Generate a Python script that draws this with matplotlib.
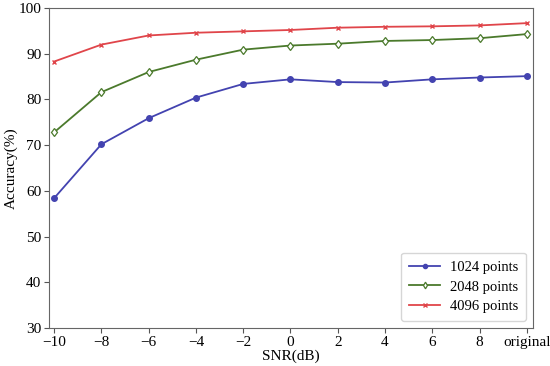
import matplotlib
matplotlib.use("Agg")
import matplotlib.pyplot as plt

plt.rcParams['font.family'] = ['Liberation Serif', 'DejaVu Serif']

# x axis labels (SNR levels)
snr_labels = ["\u221210", "\u22128", "\u22126", "\u22124", "\u22122", "0",
              "2", "4", "6", "8", "original"]

# accuracy per SNR level
acc_1024 = [58.4, 70.2, 75.9, 80.4, 83.4, 84.4, 83.8, 83.7, 84.4, 84.8, 85.1]
acc_2048 = [72.8, 81.6, 86.0, 88.7, 90.9, 91.8, 92.2, 92.8, 93.0, 93.4, 94.3]
acc_4096 = [88.3, 92.0, 94.0, 94.6, 94.9, 95.2, 95.7, 95.9, 96.0, 96.2, 96.7]

pos = list(range(len(snr_labels)))

fig = plt.figure(figsize=(5.5, 3.66), dpi=100)
ax = fig.add_axes([0.089, 0.104, 0.880, 0.874])

ax.plot(pos, acc_1024, color='#4343b0', marker='o', markersize=4,
        linewidth=1.3, label='1024 points')
ax.plot(pos, acc_2048, color='#4b7a2c', marker='d', markersize=4.5,
        markerfacecolor='white', markeredgewidth=0.9, linewidth=1.3,
        label='2048 points')
ax.plot(pos, acc_4096, color='#e0454a', marker='x', markersize=3.5,
        linewidth=1.3, label='4096 points')

ax.set_xticks(pos)
ax.set_xticklabels(snr_labels)
ax.set_xlim(-0.11, 10.13)
ax.set_ylim(30, 100)
ax.set_yticks(range(30, 101, 10))

ax.set_xlabel('SNR(dB)', fontsize=11, labelpad=1)
ax.set_ylabel('Accuracy(%)', fontsize=11)
ax.yaxis.set_label_coords(-0.064, 0.5)
ax.tick_params(labelsize=11, color='#555555', length=3.5, pad=2)
for s in ax.spines.values():
    s.set_color('#666666')

ax.legend(loc='lower right', fontsize=10.5, handlelength=2.1,
          handletextpad=0.7, markerscale=0.75, labelspacing=0.45,
          borderaxespad=0.45, borderpad=0.55)

fig.savefig('out.png', dpi=100)
